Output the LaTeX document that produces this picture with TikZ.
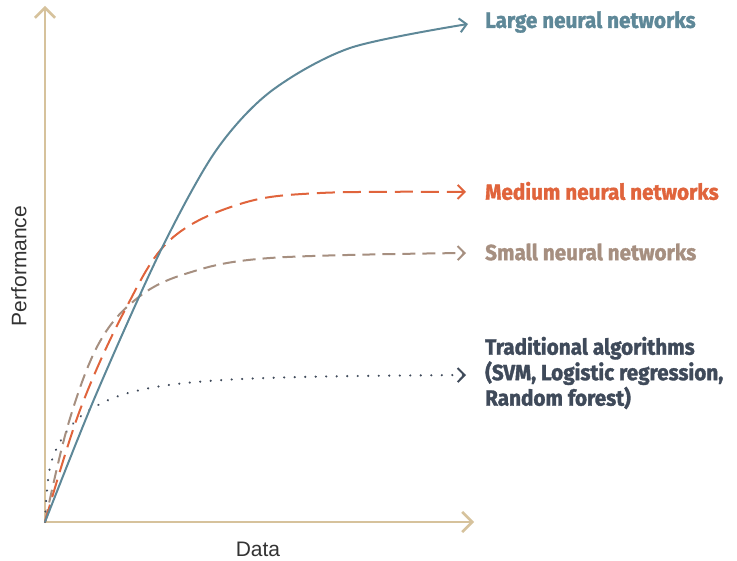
\documentclass[tikz,border=0pt]{standalone}
\usepackage{fontspec}
\setmainfont{Liberation Sans}
\newfontfamily\labfont[FakeStretch=0.94,BoldFeatures={FakeBold=1.5}]{Fira Sans}
\usetikzlibrary{arrows.meta}
\definecolor{axis}{HTML}{D6C29C}
\definecolor{large}{HTML}{5E8898}
\definecolor{medium}{HTML}{E0643C}
\definecolor{small}{HTML}{A68F80}
\definecolor{trad}{HTML}{3F4A5A}
\tikzset{
  axisline/.style={draw=axis,line width=2.6pt,-{Straight Barb[length=10pt,width=20pt,line width=2.6pt]}},
  curve/.style={line width=2pt,line cap=butt,-{Straight Barb[length=7pt,width=14pt,line width=2pt]}},
  lab/.style={anchor=west,font=\labfont\bfseries\fontsize{22}{25.5}\selectfont,inner sep=0pt},
  axlab/.style={font=\fontsize{21}{23}\selectfont,text=black!80,inner sep=0pt}
}
\begin{document}
\begin{tikzpicture}[x=1pt,y=-1pt]
\useasboundingbox (0,0) rectangle (737,561);
\coordinate (o) at (45,522);
\coordinate (ytop) at (45,6);
\coordinate (xend) at (474,522);
\draw[axisline] (o) -- (ytop);
\draw[axisline] (o) -- (xend);
% traditional
\draw[trad,curve,line width=2.4pt,dash pattern=on 0.01pt off 10.5pt,line cap=round,-{Straight Barb[length=7pt,width=14pt,line width=2pt,line cap=butt]}]
  plot[smooth,tension=0.6] coordinates {(45,522) (47,490) (52,460) (67,431) (91,409) (132,392) (196,382) (300,377) (466,375)};
% small
\draw[small,curve,dash pattern=on 13pt off 7pt]
  plot[smooth,tension=0.6] coordinates {(45,522) (68,425) (98,345) (135,300) (185,274) (270,258) (466,253)};
% medium
\draw[medium,curve,dash pattern=on 18pt off 8pt]
  plot[smooth,tension=0.6] coordinates {(45,522) (80,410) (125,310) (170,240) (240,204) (320,193) (466,192)};
% large
\draw[large,curve]
  plot[smooth,tension=0.5] coordinates {(45,522) (95,397) (160,252) (215,152) (270,92) (350,48) (468,24)};
\node[lab,text=large] (l1) at (485,22) {Large neural networks};
\node[lab,text=medium] (l2) at (485,191) {Medium neural networks};
\node[lab,text=small] (l3) at (485,252) {Small neural networks};
\node[lab,text=trad,align=left] (l4) at (485,373) {Traditional algorithms\\(SVM, Logistic regression,\\Random forest)};
\node[axlab,rotate=90] (py) at (19,266) {Performance};
\node[axlab] (px) at (258,549) {Data};
\end{tikzpicture}
\end{document}
